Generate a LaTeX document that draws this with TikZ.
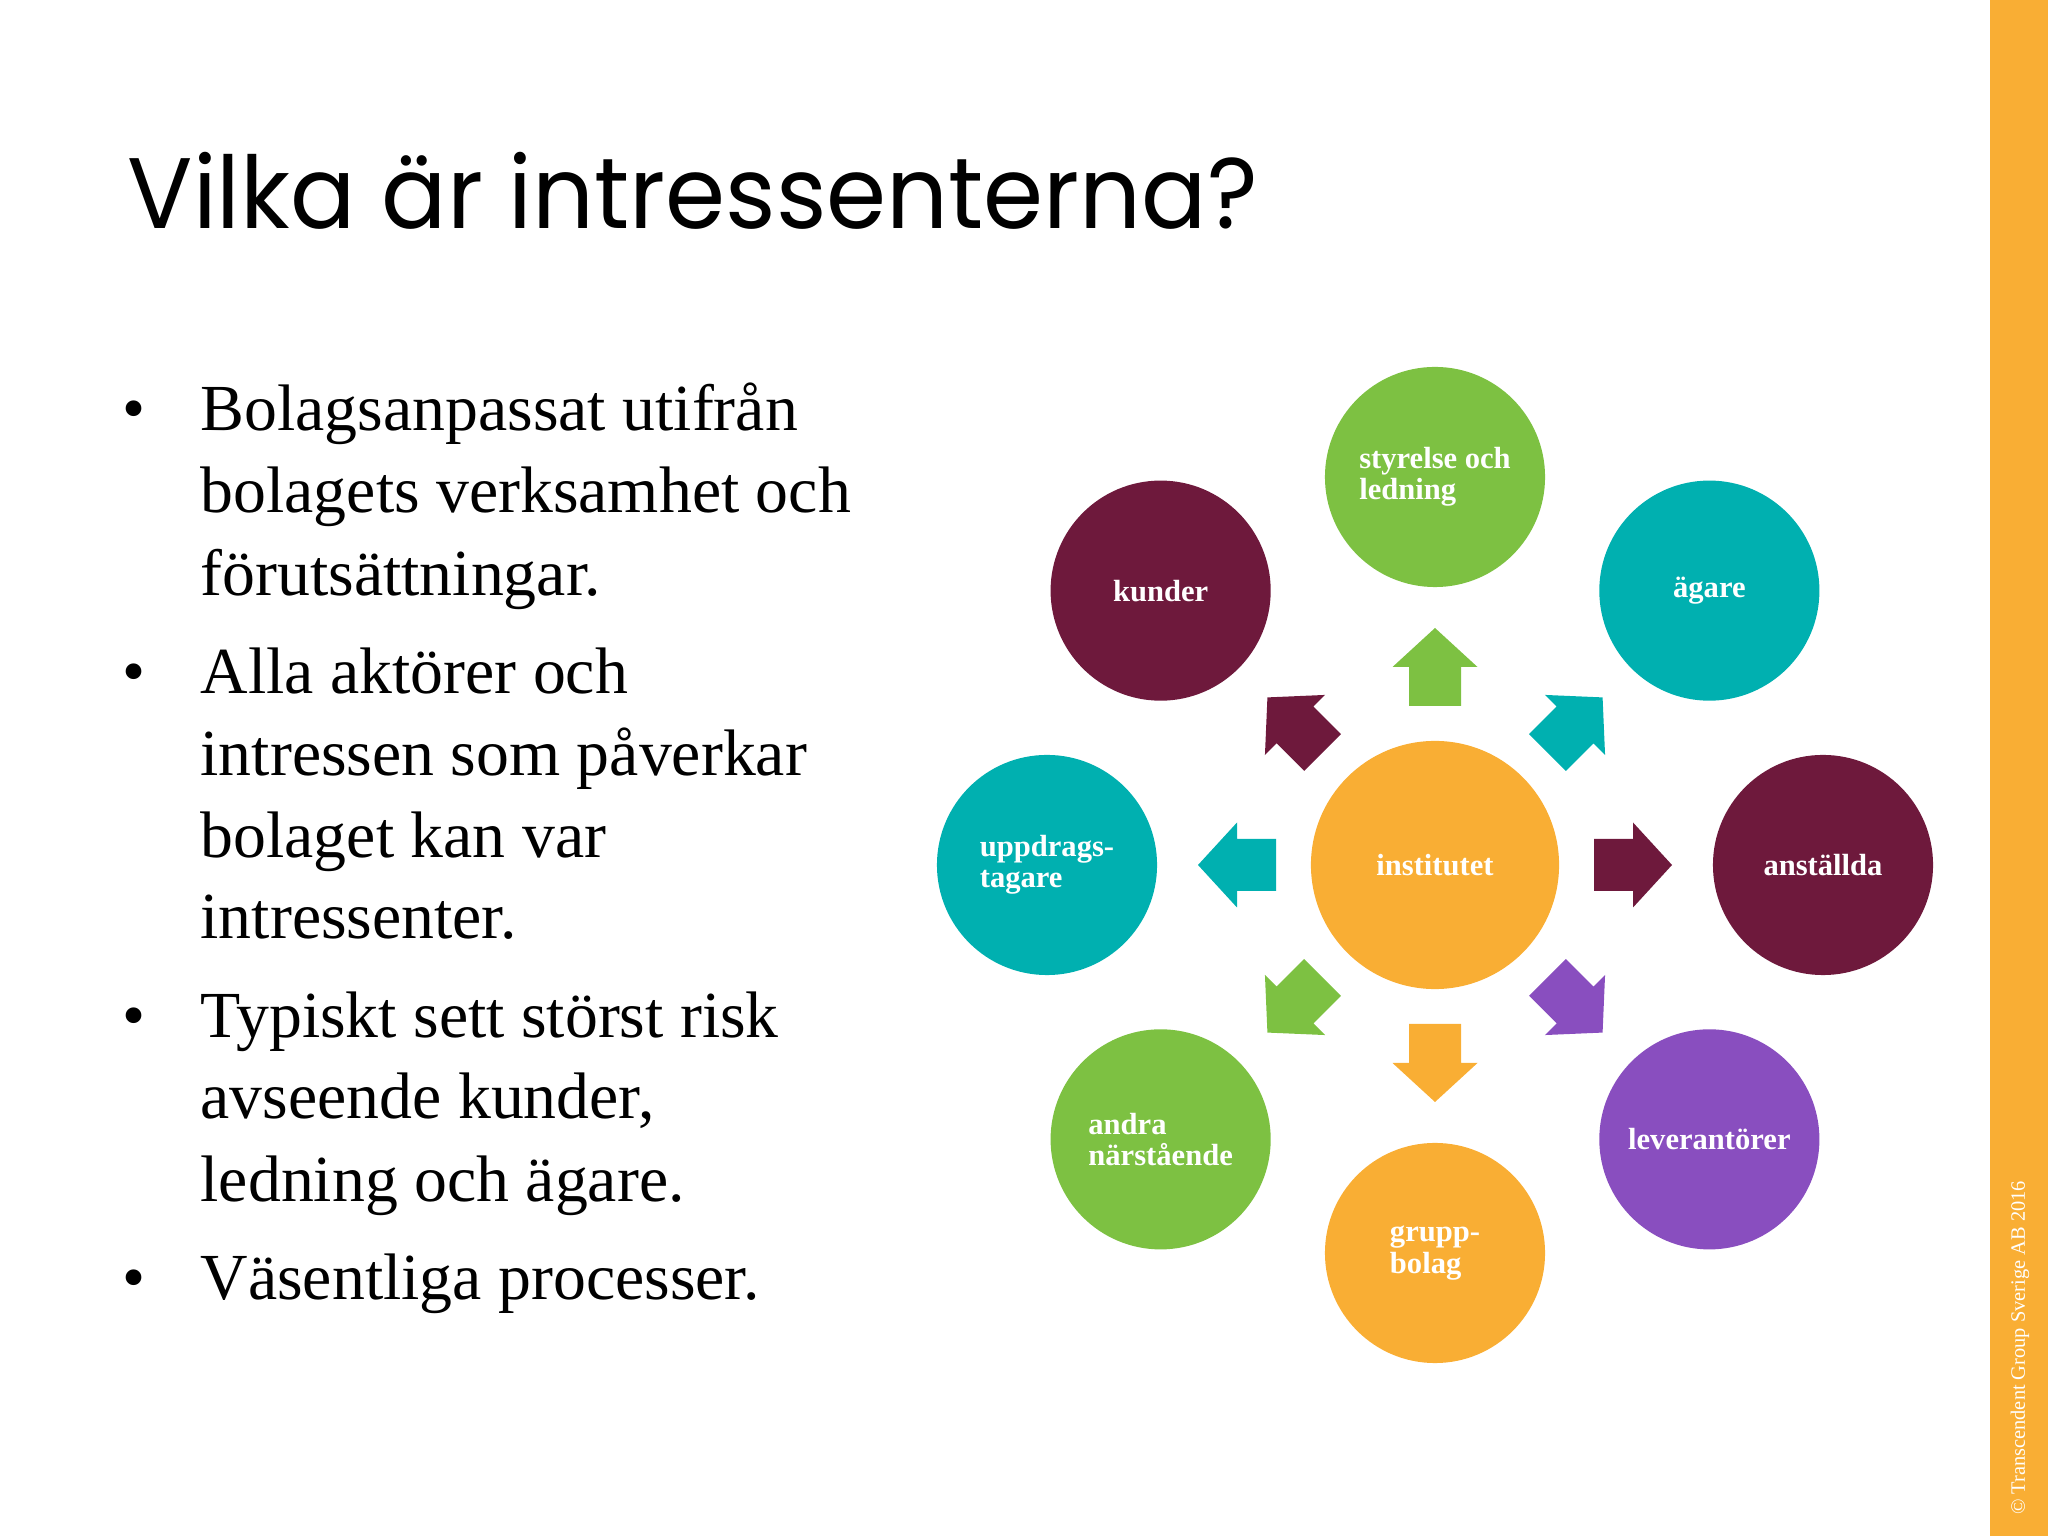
\documentclass[tikz,border=0pt]{standalone}
\usepackage{fontspec}
\setmainfont{Liberation Serif}
\newfontfamily\rubrikfont{Poppins}
\definecolor{tgorange}{RGB}{249,174,52}
\definecolor{tggreen}{RGB}{125,193,66}
\definecolor{tgteal}{RGB}{0,176,176}
\definecolor{tgmaroon}{RGB}{110,25,60}
\definecolor{tgpurple}{RGB}{137,78,191}

\tikzset{
  intressent/.style={circle, fill=#1, minimum size=2.2cm, inner sep=0pt,
    text=white, align=left, font=\fontsize{8.7}{8.9}\selectfont\bfseries},
  pil/.style={fill=#1, draw=none},
  rad/.style={anchor=base west, inner sep=0pt, font=\fontsize{18.7}{23.3}\selectfont},
}

\begin{document}
\begin{tikzpicture}[x=0.01cm,y=0.01cm]
    \useasboundingbox (0,0) rectangle (2048,1536);
    \fill[tgorange] (1990,0) rectangle (2048,1536);
    \node[rotate=90, text=white, inner sep=0pt, font=\fontsize{5.8}{6}\selectfont] (copyright) at (2020,188)
        {\copyright\ Transcendent Group Sverige AB 2016};

    \node[anchor=base west, inner sep=0pt, font=\rubrikfont\fontsize{28.5}{34}\selectfont,
        xscale=0.965, transform shape] (rubrik) at (127,1307)
        {Vilka är intressenterna?};

    % punktlista
    \foreach \y/\t [count=\i] in {1105/Bolagsanpassat utifrån, 1023/bolagets verksamhet och,
        940/förutsättningar., 842/Alla aktörer och, 760/intressen som påverkar,
        678/bolaget kan var, 597/intressenter., 498/Typiskt sett störst risk,
        417/{avseende kunder,}, 334/ledning och ägare., 236/Väsentliga processer.}
        \node[rad] (rad\i) at (200,\y) {\t};
    \foreach \y [count=\i] in {1105,842,498,236}
        \node[rad, anchor=base] (punkt\i) at (134,\y) {\textbullet};

    % intressenter
    \node[intressent=tgorange, minimum size=2.48cm] (institutet) at (1435,671) {institutet};
    \foreach \a/\n/\c/\t in {90/styrelse/tggreen/{styrelse och\\ledning}, 45/agare/tgteal/ägare,
        0/anstallda/tgmaroon/anställda, -45/leverantorer/tgpurple/leverantörer,
        -90/grupp/tgorange/{grupp-\\bolag}, -135/andra/tggreen/{andra\\närstående},
        180/uppdrag/tgteal/{uppdrags-\\tagare}, 135/kunder/tgmaroon/kunder}
    {
        \node[intressent=\c] (\n) at ([shift={(\a:388)}]institutet.center) {\t};
        \fill[pil=\c, shift={(institutet.center)}, rotate=\a]
            (159,-26) -- (198,-26) -- (198,-42.5) -- (237,0) -- (198,42.5) -- (198,26) -- (159,26) -- cycle;
    }
\end{tikzpicture}
\end{document}
